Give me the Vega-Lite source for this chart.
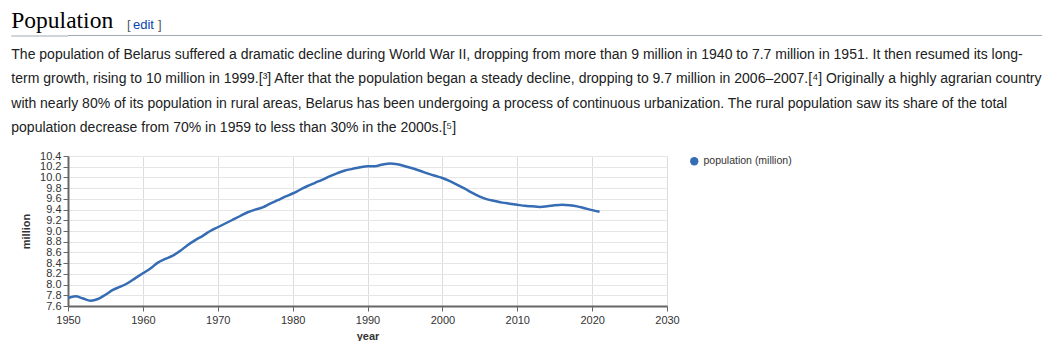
{
  "$schema": "https://vega.github.io/schema/vega-lite/v6.json",
  "background": "white",
  "padding": {"left": 10, "top": 9, "right": 0, "bottom": 0},
  "config": {"view": {"stroke": null}, "font": "Liberation Sans"},
  "spacing": 10,
  "resolve": {"legend": {"color": "independent"}, "scale": {"color": "independent"}},
  "vconcat": [
    {
      "spacing": 0,
      "hconcat": [
        {"data": {"values": []}, "mark": "point",
         "encoding": {"y": {"field": "v", "type": "quantitative", "scale": {"domain": [0, 1]},
           "axis": {"title": null, "values": [0.5], "labels": false, "domain": false, "grid": false,
                    "ticks": true, "tickSize": 56.7, "tickColor": "#a2a9b1", "tickWidth": 1, "translate": 0}}},
         "width": 59, "height": 1,
         "view": {"fill": "#a2a9b1", "stroke": null},
         "title": {"text": "Population", "anchor": "start", "frame": "group", "dx": -56.7, "font": "Liberation Serif", "fontSize": 23.5, "fontWeight": "normal", "color": "#000000", "baseline": "alphabetic", "offset": -16.6}},
        {"data": {"values": []}, "mark": "point", "encoding": {}, "width": 6, "height": 1,
         "view": {"fill": "#a2a9b1", "stroke": null},
         "title": {"text": "[", "anchor": "start", "frame": "group", "font": "Liberation Sans", "fontSize": 13, "fontWeight": "normal", "color": "#54595d", "baseline": "alphabetic", "offset": -6.7}},
        {"data": {"values": []}, "mark": "point", "encoding": {}, "width": 25, "height": 1,
         "view": {"fill": "#a2a9b1", "stroke": null},
         "title": {"text": "edit", "anchor": "start", "frame": "group", "font": "Liberation Sans", "fontSize": 13, "fontWeight": "normal", "color": "#0645ad", "baseline": "alphabetic", "offset": -6.7}},
        {"data": {"values": []}, "mark": "point", "encoding": {}, "width": 885, "height": 1,
         "view": {"fill": "#a2a9b1", "stroke": null},
         "title": {"text": "]", "anchor": "start", "frame": "group", "font": "Liberation Sans", "fontSize": 13, "fontWeight": "normal", "color": "#54595d", "baseline": "alphabetic", "offset": -6.7}}
      ]
    },
    {
      "width": 599,
      "height": 150,
      "title": {
        "text": [
          "The population of Belarus suffered a dramatic decline during World War II, dropping from more than 9 million in 1940 to 7.7 million in 1951. It then resumed its long-",
          "term growth, rising to 10 million in 1999.[³] After that the population began a steady decline, dropping to 9.7 million in 2006–2007.[⁴] Originally a highly agrarian country",
          "with nearly 80% of its population in rural areas, Belarus has been undergoing a process of continuous urbanization. The rural population saw its share of the total",
          "population decrease from 70% in 1959 to less than 30% in the 2000s.[⁵]"
        ],
        "anchor": "start",
        "frame": "group",
        "dx": -56.7,
        "font": "Liberation Sans",
        "fontSize": 14,
        "fontWeight": "normal",
        "color": "#202122",
        "lineHeight": 24.5,
        "baseline": "alphabetic",
        "offset": 4
      },
      "data": {"values": [
        {"year": 1950, "million": 7.75}, {"year": 1951, "million": 7.78}, {"year": 1952, "million": 7.74},
        {"year": 1953, "million": 7.70}, {"year": 1954, "million": 7.73}, {"year": 1955, "million": 7.81},
        {"year": 1956, "million": 7.90}, {"year": 1957, "million": 7.96}, {"year": 1958, "million": 8.03},
        {"year": 1959, "million": 8.12}, {"year": 1960, "million": 8.21}, {"year": 1961, "million": 8.30},
        {"year": 1962, "million": 8.41}, {"year": 1963, "million": 8.48}, {"year": 1964, "million": 8.54},
        {"year": 1965, "million": 8.63}, {"year": 1966, "million": 8.74}, {"year": 1967, "million": 8.83},
        {"year": 1968, "million": 8.91}, {"year": 1969, "million": 9.00}, {"year": 1970, "million": 9.07},
        {"year": 1971, "million": 9.14}, {"year": 1972, "million": 9.21}, {"year": 1973, "million": 9.28},
        {"year": 1974, "million": 9.35}, {"year": 1975, "million": 9.40}, {"year": 1976, "million": 9.44},
        {"year": 1977, "million": 9.51}, {"year": 1978, "million": 9.575}, {"year": 1979, "million": 9.64},
        {"year": 1980, "million": 9.70}, {"year": 1981, "million": 9.77}, {"year": 1982, "million": 9.84},
        {"year": 1983, "million": 9.90}, {"year": 1984, "million": 9.96}, {"year": 1985, "million": 10.025},
        {"year": 1986, "million": 10.08}, {"year": 1987, "million": 10.13}, {"year": 1988, "million": 10.16},
        {"year": 1989, "million": 10.19}, {"year": 1990, "million": 10.21}, {"year": 1991, "million": 10.21},
        {"year": 1992, "million": 10.24}, {"year": 1993, "million": 10.26}, {"year": 1994, "million": 10.245},
        {"year": 1995, "million": 10.21}, {"year": 1996, "million": 10.17}, {"year": 1997, "million": 10.125},
        {"year": 1998, "million": 10.075}, {"year": 1999, "million": 10.03}, {"year": 2000, "million": 9.99},
        {"year": 2001, "million": 9.93}, {"year": 2002, "million": 9.86}, {"year": 2003, "million": 9.79},
        {"year": 2004, "million": 9.71}, {"year": 2005, "million": 9.64}, {"year": 2006, "million": 9.59},
        {"year": 2007, "million": 9.56}, {"year": 2008, "million": 9.53}, {"year": 2009, "million": 9.51},
        {"year": 2010, "million": 9.49}, {"year": 2011, "million": 9.47}, {"year": 2012, "million": 9.46},
        {"year": 2013, "million": 9.45}, {"year": 2014, "million": 9.46}, {"year": 2015, "million": 9.48},
        {"year": 2016, "million": 9.49}, {"year": 2017, "million": 9.48}, {"year": 2018, "million": 9.46},
        {"year": 2019, "million": 9.425}, {"year": 2020, "million": 9.39}, {"year": 2021, "million": 9.36}
      ]},
      "mark": {"type": "line", "strokeWidth": 2.5, "interpolate": "monotone"},
      "encoding": {
        "x": {
          "field": "year", "type": "quantitative",
          "scale": {"domain": [1950, 2030], "nice": false, "zero": false},
          "axis": {
            "title": "year",
            "values": [1950, 1960, 1970, 1980, 1990, 2000, 2010, 2020, 2030],
            "format": "d",
            "labelFlush": false,
            "labelFont": "Liberation Sans", "labelFontSize": 11, "labelColor": "#333333", "labelPadding": 3,
            "titleFont": "Liberation Sans", "titleFontSize": 11, "titleFontWeight": "bold", "titleColor": "#333333", "titlePadding": 5,
            "domainColor": "#666666", "domainWidth": 2,
            "tickColor": "#666666", "tickSize": 5, "tickWidth": 1,
            "gridColor": "#dddddd", "gridWidth": 1
          }
        },
        "y": {
          "field": "million", "type": "quantitative",
          "scale": {"domain": [7.6, 10.4], "nice": false, "zero": false},
          "axis": {
            "title": "million",
            "values": [7.6, 7.8, 8.0, 8.2, 8.4, 8.6, 8.8, 9.0, 9.2, 9.4, 9.6, 9.8, 10.0, 10.2, 10.4],
            "format": ".1f",
            "labelOverlap": false,
            "labelFlush": false,
            "labelFont": "Liberation Sans", "labelFontSize": 11, "labelColor": "#333333", "labelPadding": 2,
            "titleFont": "Liberation Sans", "titleFontSize": 11, "titleFontWeight": "bold", "titleColor": "#333333", "titlePadding": 8,
            "domainColor": "#666666", "domainWidth": 2,
            "tickColor": "#666666", "tickSize": 5, "tickWidth": 1,
            "gridColor": "#e6e6e6", "gridWidth": 1
          }
        },
        "color": {
          "datum": "population (million)",
          "type": "nominal",
          "scale": {"range": ["#356cb3"]},
          "legend": {
            "title": null,
            "orient": "right",
            "offset": 22,
            "symbolType": "circle",
            "symbolFillColor": "#356cb3",
            "symbolStrokeColor": "#356cb3",
            "symbolStrokeWidth": 0,
            "symbolSize": 70,
            "labelFont": "Liberation Sans",
            "labelFontSize": 10.5,
            "labelColor": "#333333",
            "labelOffset": 4
          }
        }
      }
    }
  ]
}
